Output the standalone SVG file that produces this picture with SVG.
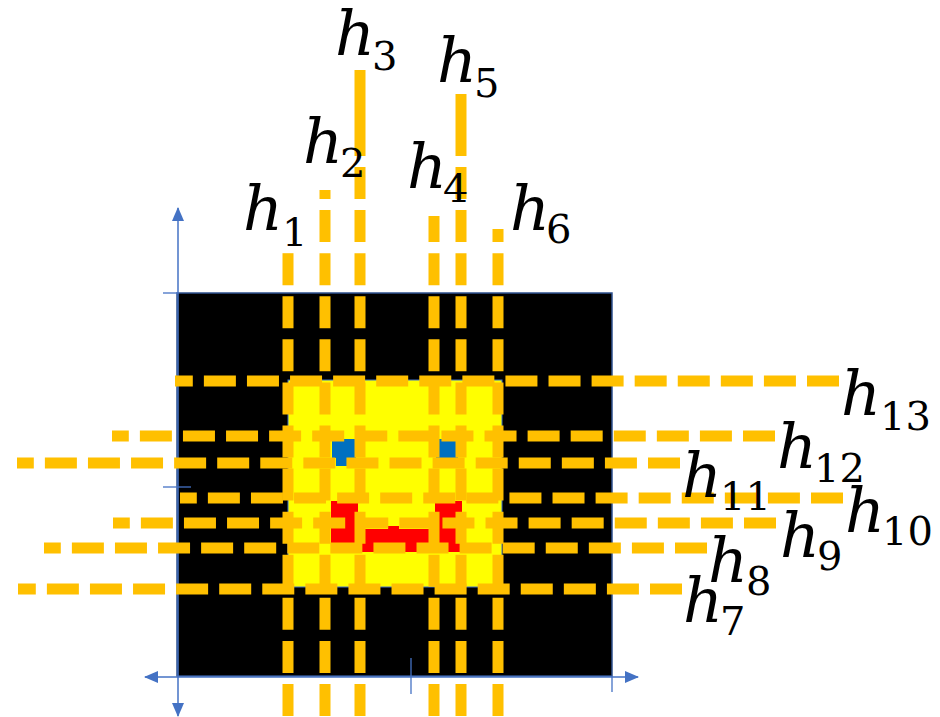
<svg xmlns="http://www.w3.org/2000/svg" width="940" height="717" viewBox="0 0 940 717">
  <style>
    .axis { stroke: #4472C4; stroke-width: 1.5; fill: none; }
    .tick { stroke: #4472C4; stroke-width: 1.3; fill: none; }
    .cut { stroke: #FFC000; stroke-width: 11; fill: none; stroke-linecap: butt; stroke-dasharray: 32 11.08; }
    .solid { stroke: #FFC000; stroke-width: 11; fill: none; }
    .v { font-family: "DejaVu Serif", "Liberation Serif", serif; font-style: italic; font-size: 62px; fill: #000; }
    .n { font-family: "DejaVu Serif", "Liberation Serif", serif; font-size: 40px; fill: #000; }
  </style>
  <defs>
    <marker id="arrow" viewBox="0 0 14 12" refX="13" refY="6" markerWidth="14" markerHeight="12" markerUnits="userSpaceOnUse" orient="auto-start-reverse">
      <path d="M0,0 L14,6 L0,12 Z" fill="#4472C4"/>
    </marker>
  </defs>
  <rect width="940" height="717" fill="#fff"/>

  <!-- image plane with the face -->
  <g id="image">
    <rect x="177" y="293" width="435" height="383" fill="#000" stroke="#2F528F" stroke-width="1.5"/>
    <rect x="288" y="380" width="214" height="207" fill="#FFFF00" stroke="#4472C4" stroke-width="1"/>
    <path id="eye-left" d="M332,439 H356 V458 H347 V466 H336 V458 H332 Z" fill="#0070C0"/>
    <rect id="eye-right" x="436" y="439" width="22" height="19" fill="#0070C0"/>
    <path id="mouth" d="M331,501 H358 V529 H388 V526 H399 V529 H435 V501 H462 V512 H460 V552 H331 Z" fill="#FF0000"/>
  </g>

  <!-- coordinate axes and ticks -->
  <g id="axes">
    <line class="axis" x1="178" y1="716" x2="178" y2="208" marker-start="url(#arrow)" marker-end="url(#arrow)"/>
    <line class="axis" x1="145" y1="677" x2="638" y2="677" marker-start="url(#arrow)" marker-end="url(#arrow)"/>
    <line class="tick" x1="163" y1="293" x2="178" y2="293"/>
    <line class="tick" x1="163" y1="487" x2="191" y2="487"/>
    <line class="tick" x1="411" y1="658" x2="411" y2="694"/>
    <line class="tick" x1="612" y1="676" x2="612" y2="692"/>
  </g>

  <!-- dashed cut lines -->
  <g id="connectors">
    <!-- vertical, drawn bottom-up so the pattern lines up -->
    <path class="cut" d="M288,716 V253"/>
    <path class="cut" d="M325,716 V190"/>
    <path class="cut" d="M360,716 V167"/>
    <path class="solid" d="M360,156 V70"/>
    <path class="cut" d="M434,716 V216"/>
    <path class="cut" d="M461,716 V167"/>
    <path class="solid" d="M461,156 V94"/>
    <path class="cut" d="M498,716 V229"/>
    <!-- horizontal, drawn right-to-left -->
    <path class="cut" d="M839,381 H175"/>
    <path class="cut" d="M775,436 H112"/>
    <path class="cut" d="M680,463 H17"/>
    <path class="cut" d="M843,498 H180"/>
    <path class="cut" d="M776,523 H113"/>
    <path class="cut" d="M707,548 H44"/>
    <path class="cut" d="M682,589 H18"/>
  </g>

  <!-- line labels -->
  <g id="labels">
    <g id="label-h1"><text class="v" x="243" y="230">h</text><text class="n" x="282" y="246">1</text></g>
    <g id="label-h2"><text class="v" x="303" y="163">h</text><text class="n" x="340" y="177">2</text></g>
    <g id="label-h3"><text class="v" x="335" y="55">h</text><text class="n" x="372" y="70">3</text></g>
    <g id="label-h4"><text class="v" x="407" y="188">h</text><text class="n" x="443" y="202">4</text></g>
    <g id="label-h5"><text class="v" x="437" y="82">h</text><text class="n" x="474" y="97">5</text></g>
    <g id="label-h6"><text class="v" x="510" y="230">h</text><text class="n" x="546" y="243">6</text></g>
    <g id="label-h7"><text class="v" x="683" y="622">h</text><text class="n" x="720" y="635">7</text></g>
    <g id="label-h8"><text class="v" x="708" y="582">h</text><text class="n" x="746" y="595">8</text></g>
    <g id="label-h9"><text class="v" x="780" y="557">h</text><text class="n" x="817" y="570">9</text></g>
    <g id="label-h10"><text class="v" x="845" y="532">h</text><text class="n" x="882" y="545">10</text></g>
    <g id="label-h11"><text class="v" x="682" y="497">h</text><text class="n" x="720" y="510">11</text></g>
    <g id="label-h12"><text class="v" x="777" y="468">h</text><text class="n" x="814" y="482">12</text></g>
    <g id="label-h13"><text class="v" x="841" y="415">h</text><text class="n" x="880" y="430">13</text></g>
  </g>
</svg>
